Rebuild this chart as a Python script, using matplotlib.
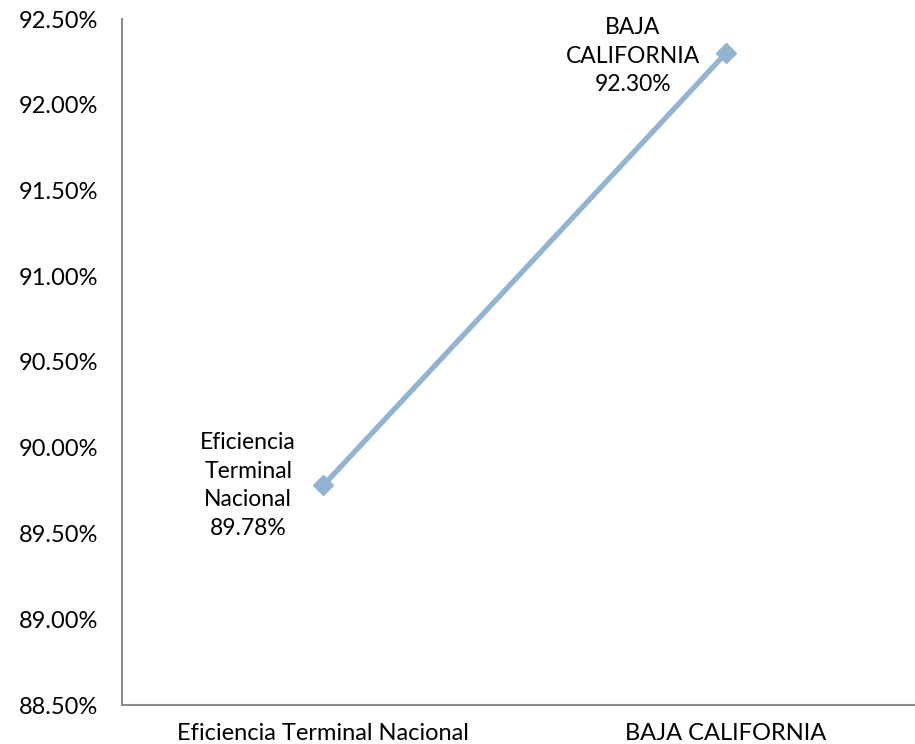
import matplotlib.pyplot as plt
from matplotlib.ticker import FuncFormatter

plt.rcParams['font.family'] = ['Lato', 'DejaVu Sans']

categories = ["Eficiencia Terminal Nacional", "BAJA CALIFORNIA"]
values = [89.78, 92.30]
point_labels = ["Eficiencia\nTerminal\nNacional\n89.78%", "BAJA\nCALIFORNIA\n92.30%"]
label_offsets = [(-54, 0), (-67, -2)]

fig = plt.figure(figsize=(9.15, 7.44), dpi=100)
ax = fig.add_axes([122 / 915, 39 / 744, 805 / 915, 686 / 744])

x = list(range(len(categories)))
ax.plot(x, values, color='#93B3D3', lw=3.8, marker='D', markersize=10,
        markeredgecolor='#93B3D3', zorder=3)

for xi, v, lab, off in zip(x, values, point_labels, label_offsets):
    ax.annotate(lab, (xi, v), xytext=off, textcoords='offset points',
                ha='center', va='center', multialignment='center',
                fontsize=16.5, linespacing=1.45, color='black')

ax.set_xlim(-0.5, 1.5)
ax.set_ylim(88.5, 92.5)
ax.set_yticks([88.5 + 0.5 * i for i in range(9)])
ax.yaxis.set_major_formatter(FuncFormatter(lambda v, p: f"{v:.2f}%"))
ax.set_xticks(x)
ax.set_xticklabels(categories)
ax.tick_params(length=0, labelsize=17, pad=13)
ax.tick_params(axis='y', pad=17)

for s in ['top', 'right']:
    ax.spines[s].set_visible(False)
for s in ['left', 'bottom']:
    ax.spines[s].set_color('#8C8C8C')
    ax.spines[s].set_linewidth(1.5)

fig.savefig('out.png', dpi=100)
